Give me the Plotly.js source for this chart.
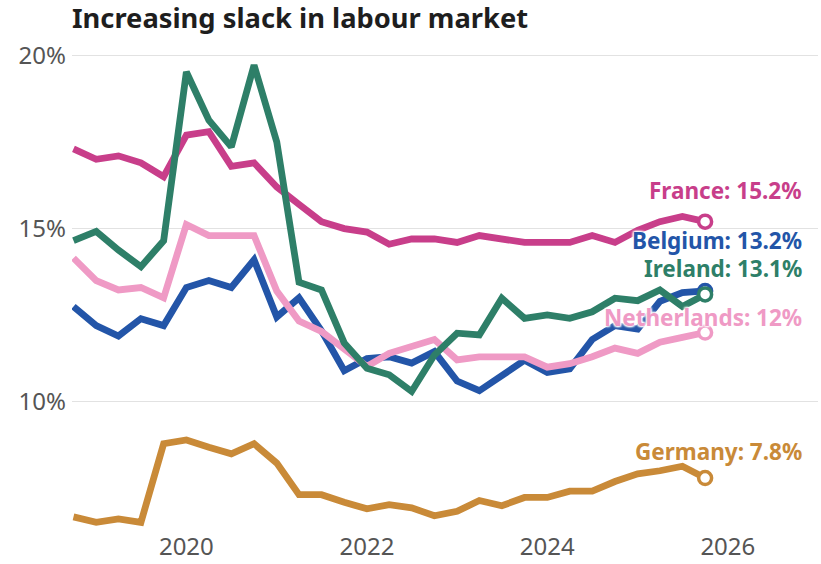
<!DOCTYPE html>
<html>
<head>
<meta charset="utf-8">
<script src="https://cdn.plot.ly/plotly-3.0.1.min.js"></script>
<style>
    html, body { margin: 0; padding: 0; background: #ffffff; }
    #chart { width: 821px; height: 564px; }
</style>
</head>
<body>
<div id="chart"></div>
<script>
"use strict";

// quarterly observations, 2018 Q4 to 2025 Q4
const quarters = [
    "2018-10-01", "2019-01-01", "2019-04-01", "2019-07-01",
    "2019-10-01", "2020-01-01", "2020-04-01", "2020-07-01",
    "2020-10-01", "2021-01-01", "2021-04-01", "2021-07-01",
    "2021-10-01", "2022-01-01", "2022-04-01", "2022-07-01",
    "2022-10-01", "2023-01-01", "2023-04-01", "2023-07-01",
    "2023-10-01", "2024-01-01", "2024-04-01", "2024-07-01",
    "2024-10-01", "2025-01-01", "2025-04-01", "2025-07-01",
    "2025-10-01"
];

const countries = ["France", "Belgium", "Netherlands", "Ireland", "Germany"];
const colours = ["#c83e8a", "#2355a8", "#ef9ac5", "#2e7f68", "#c98a38"];

// slack in labour market, % of extended labour force
const france = [17.3, 17.0, 17.1, 16.9, 16.5, 17.7, 17.8, 16.8, 16.9, 16.2,
    15.7, 15.2, 15.0, 14.9, 14.55, 14.7, 14.7, 14.6, 14.8, 14.7,
    14.6, 14.6, 14.6, 14.8, 14.6, 14.95, 15.2, 15.35, 15.2];
const belgium = [12.75, 12.2, 11.9, 12.4, 12.2, 13.3, 13.5, 13.3, 14.1, 12.45,
    13.0, 12.05, 10.9, 11.25, 11.3, 11.12, 11.45, 10.6, 10.32, 10.78,
    11.2, 10.85, 10.95, 11.8, 12.2, 12.1, 12.9, 13.15, 13.2];
const netherlands = [14.15, 13.5, 13.23, 13.3, 13.0, 15.12, 14.8, 14.8, 14.8, 13.2,
    12.33, 12.03, 11.55, 11.02, 11.4, 11.62, 11.8, 11.21, 11.3, 11.3,
    11.3, 11.0, 11.1, 11.3, 11.55, 11.4, 11.72, 11.86, 12.0];
const ireland = [14.65, 14.92, 14.38, 13.9, 14.65, 19.52, 18.13, 17.36, 19.72, 17.5,
    13.45, 13.23, 11.7, 10.97, 10.78, 10.3, 11.35, 11.98, 11.93, 12.99,
    12.41, 12.51, 12.41, 12.6, 12.99, 12.92, 13.23, 12.75, 13.1];
const germany = [6.68, 6.52, 6.62, 6.52, 8.79, 8.9, 8.69, 8.5, 8.79, 8.23,
    7.32, 7.32, 7.1, 6.91, 7.03, 6.94, 6.71, 6.84, 7.15, 7.0,
    7.24, 7.24, 7.42, 7.42, 7.7, 7.92, 8.01, 8.14, 7.8];

const series = [france, belgium, netherlands, ireland, germany];

// y axis ticks
const yTicks = [10, 15, 20];
const yTickText = ["10%", "15%", "20%"];

// where each end label sits (y in % units), tuned by eye to avoid overlaps
const labelY = [16.11, 14.67, 12.42, 13.86, 8.56];

const fontFamily = "'Noto Sans', 'Open Sans', sans-serif";

window.addEventListener("load", init);

function init() {
    let traces = [];
    let annotations = [];
    let last = quarters.length - 1;

    for (let i = 0; i < countries.length; i++) {
        // the line itself
        traces.push({
            x: quarters,
            y: series[i],
            mode: "lines",
            type: "scatter",
            line: { color: colours[i], width: 6.8 },
            hoverinfo: "skip"
        });

        // hollow circle on the latest value
        traces.push({
            x: [quarters[last]],
            y: [series[i][last]],
            mode: "markers",
            type: "scatter",
            cliponaxis: false,
            marker: {
                size: 13,
                color: "#ffffff",
                line: { color: colours[i], width: 3.5 }
            },
            hoverinfo: "skip"
        });

        annotations.push({
            xref: "x",
            yref: "y",
            x: "2026-11-06",
            y: labelY[i],
            xanchor: "right",
            yanchor: "middle",
            showarrow: false,
            text: "<b>" + countries[i] + ": " + series[i][last] + "%</b>",
            font: {
                family: fontFamily,
                size: 22.5,
                color: colours[i],
                shadow: "1px 1px 2px #fff, -1px -1px 2px #fff, 1px -1px 2px #fff, -1px 1px 2px #fff"
            }
        });
    }

    let layout = {
        width: 821,
        height: 564,
        margin: { l: 72, r: 3, t: 45, b: 34 },
        paper_bgcolor: "#ffffff",
        plot_bgcolor: "#ffffff",
        showlegend: false,
        font: { family: fontFamily, color: "#4d4d4d" },
        title: {
            text: "<b>Increasing slack in labour market</b>",
            font: { family: fontFamily, size: 27.3, color: "#1e1e1e" },
            xref: "paper",
            x: 0,
            xanchor: "left",
            yref: "container",
            y: 0.968,
            yanchor: "middle"
        },
        xaxis: {
            type: "date",
            range: ["2018-09-25", "2027-01-01"],
            tick0: "2020-01-01",
            dtick: "M24",
            tickformat: "%Y",
            showgrid: false,
            zeroline: false,
            showline: false,
            ticks: "",
            tickfont: { size: 24, color: "#555555" }
        },
        yaxis: {
            range: [6.3, 20.3],
            tickmode: "array",
            tickvals: yTicks,
            ticktext: yTickText,
            ticklabelstandoff: 5,
            showgrid: true,
            gridcolor: "#e2e2e2",
            gridwidth: 1,
            zeroline: false,
            showline: false,
            ticks: "",
            tickfont: { size: 24, color: "#555555" }
        },
        annotations: annotations
    };

    Plotly.newPlot("chart", traces, layout, { displayModeBar: false, staticPlot: true });
}
</script>
</body>
</html>
